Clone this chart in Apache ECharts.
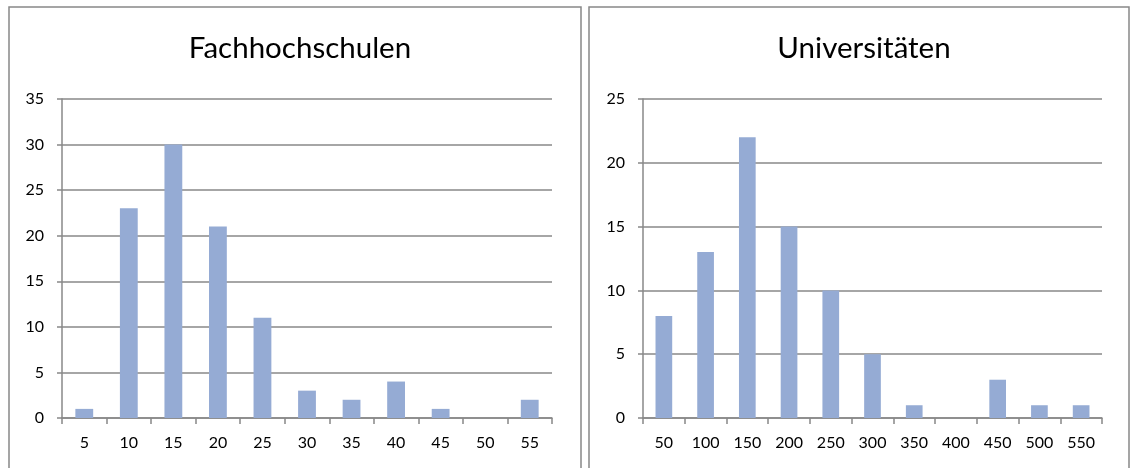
<!DOCTYPE html>
<html>
<head>
<meta charset="utf-8">
<script src="https://cdn.jsdelivr.net/npm/echarts@6/dist/echarts.min.js"></script>
<style>
  html, body { margin: 0; padding: 0; background: #fff; }
  #chart { width: 1130px; height: 468px; }
</style>
</head>
<body>
<div id="chart"></div>
<script>
// Fachhochschulen: size classes and number of institutions
const fhCategories = ['5', '10', '15', '20', '25', '30', '35', '40', '45', '50', '55'];
const fhCounts = [1, 23, 30, 21, 11, 3, 2, 4, 1, 0, 2];
const fhTicks = { min: 0, max: 35, interval: 5 };

// Universitäten: size classes and number of institutions
const uniCategories = ['50', '100', '150', '200', '250', '300', '350', '400', '450', '500', '550'];
const uniCounts = [8, 13, 22, 15, 10, 5, 1, 0, 3, 1, 1];
const uniTicks = { min: 0, max: 25, interval: 5 };

const FONT = 'Lato';
const GRAY = '#888888';
const BAR = '#95abd4';

function xAxis(gridIndex, data) {
  return {
    type: 'category', gridIndex, data,
    axisLine: { lineStyle: { color: GRAY, width: 1.5 } },
    axisTick: { show: true, length: 6, lineStyle: { color: GRAY, width: 1.5 } },
    axisLabel: { color: '#000', fontFamily: FONT, fontSize: 16, margin: 17 }
  };
}
function yAxis(gridIndex, t) {
  return {
    type: 'value', gridIndex, min: t.min, max: t.max, interval: t.interval,
    axisLine: { show: true, lineStyle: { color: GRAY, width: 1.5 } },
    axisTick: { show: true, length: 5, lineStyle: { color: GRAY, width: 1.5 } },
    splitLine: { show: true, lineStyle: { color: GRAY, width: 1.5 } },
    axisLabel: { color: '#000', fontFamily: FONT, fontSize: 16, margin: 18 }
  };
}
function bars(idx, data) {
  return {
    type: 'bar', xAxisIndex: idx, yAxisIndex: idx, data,
    barWidth: '40%',
    itemStyle: { color: BAR },
    silent: true
  };
}

const chart = echarts.init(document.getElementById('chart'), null, { renderer: 'canvas' });
chart.setOption({
  animation: false,
  backgroundColor: '#fff',
  graphic: [
    { type: 'rect', shape: { x: 9, y: 7, width: 572, height: 470 }, style: { fill: 'none', stroke: GRAY, lineWidth: 1.5 }, z: -1 },
    { type: 'rect', shape: { x: 589, y: 7, width: 540, height: 470 }, style: { fill: 'none', stroke: GRAY, lineWidth: 1.5 }, z: -1 }
  ],
  title: [
    { text: 'Fachhochschulen', left: 295, top: 28, textAlign: 'center',
      textStyle: { fontFamily: FONT, fontSize: 29.5, fontWeight: 'normal', color: '#000' } },
    { text: 'Universitäten', left: 859, top: 28, textAlign: 'center',
      textStyle: { fontFamily: FONT, fontSize: 29.5, fontWeight: 'normal', color: '#000' } }
  ],
  grid: [
    { left: 62, top: 99, width: 490, height: 319 },
    { left: 643, top: 99, width: 459, height: 319 }
  ],
  xAxis: [xAxis(0, fhCategories), xAxis(1, uniCategories)],
  yAxis: [yAxis(0, fhTicks), yAxis(1, uniTicks)],
  series: [bars(0, fhCounts), bars(1, uniCounts)]
});
</script>
</body>
</html>
